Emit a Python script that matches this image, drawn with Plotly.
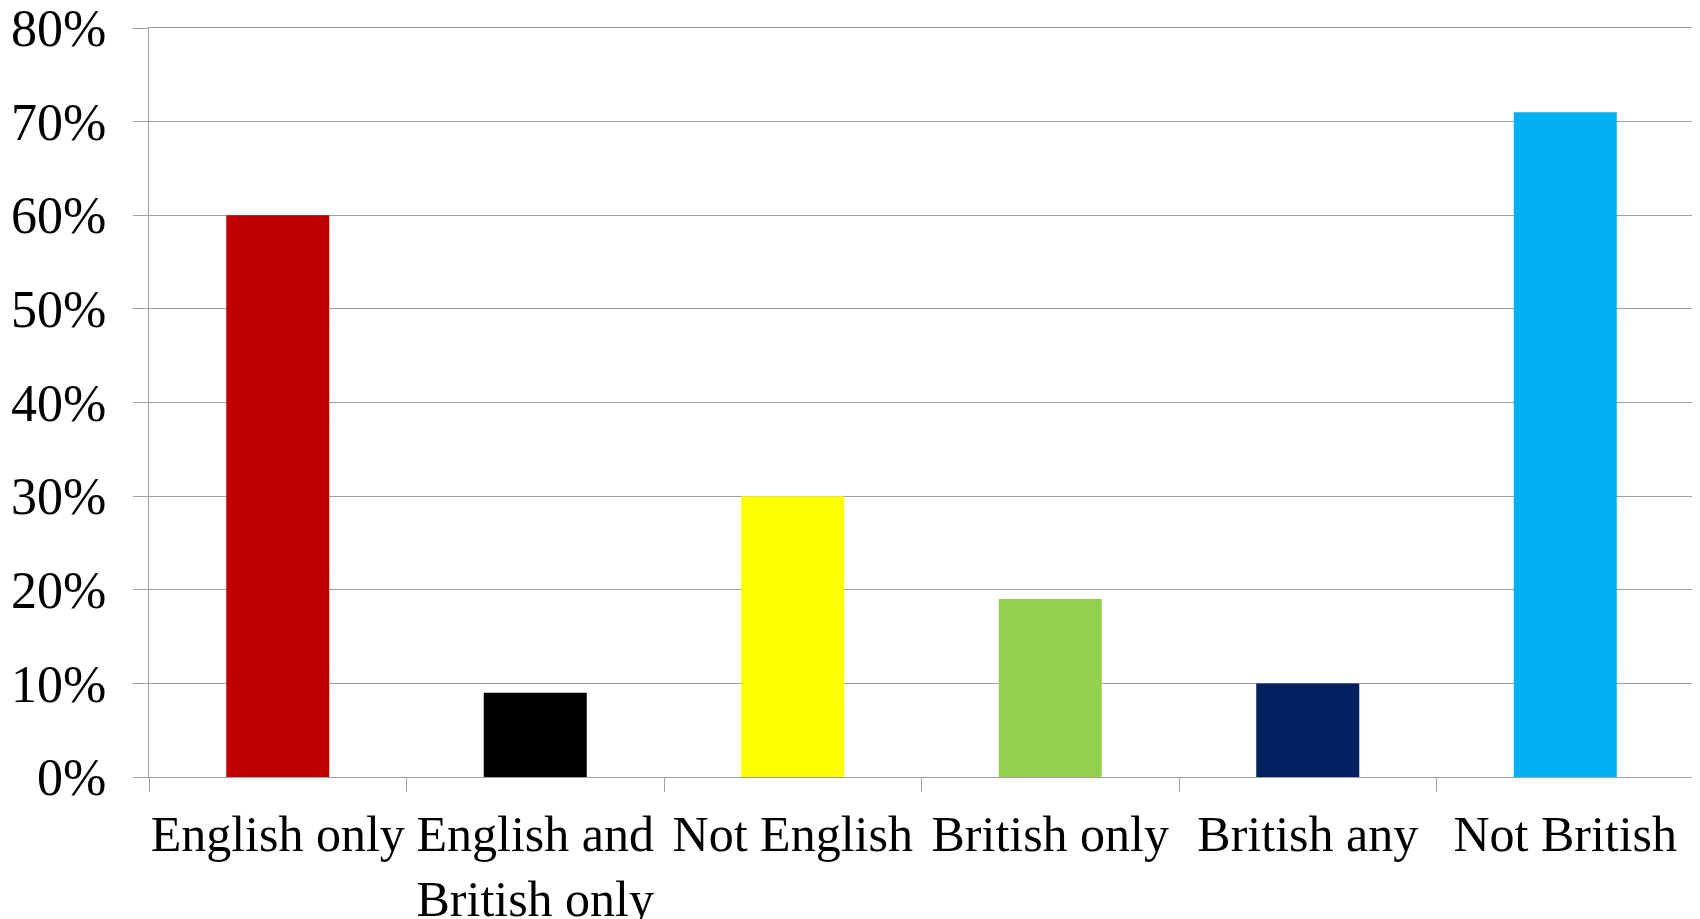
import plotly.graph_objects as go

categories = ["English only", "English and<br>British only", "Not English", "British only", "British any", "Not British"]
values = [0.60, 0.09, 0.30, 0.19, 0.10, 0.71]
colors = ["#C00000", "#000000", "#FFFF00", "#92D050", "#002060", "#00B0F0"]
y_ticks = [0, 0.1, 0.2, 0.3, 0.4, 0.5, 0.6, 0.7, 0.8]

FONT = "Liberation Serif"
GRID = "#A0A0A0"

fig = go.Figure(go.Bar(x=categories, y=values, marker=dict(color=colors, line=dict(width=0)),
                       hoverinfo="x+y"))

fig.update_layout(
    width=1700, height=919,
    margin=dict(l=141, r=14, t=20, b=150),
    paper_bgcolor="white", plot_bgcolor="white",
    bargap=0.6,
    showlegend=False,
    font=dict(family=FONT, size=48, color="black"),
)
fig.update_xaxes(
    type="category",
    automargin=False,
    tickangle=0,
    showline=True, linecolor=GRID, linewidth=1.3, mirror=True,
    ticks="outside", ticklen=14, tickcolor=GRID, tickwidth=1.3,
    tickson="boundaries",
    ticklabelstandoff=13,
    ticklabeloverflow="allow",
    showgrid=False,
    tickfont=dict(family=FONT, size=50, color="black"),
)
fig.update_yaxes(
    automargin=False,
    range=[0, 0.8], tickvals=y_ticks, tickformat=".0%",
    showline=True, linecolor=GRID, linewidth=1.3,
    showgrid=True, gridcolor=GRID, gridwidth=1.3,
    ticks="outside", ticklen=15, tickcolor=GRID, tickwidth=1.3,
    ticklabelstandoff=16,
    ticklabeloverflow="allow",
    zeroline=False,
    tickfont=dict(family=FONT, size=52, color="black"),
)

fig.write_html("out.html")
